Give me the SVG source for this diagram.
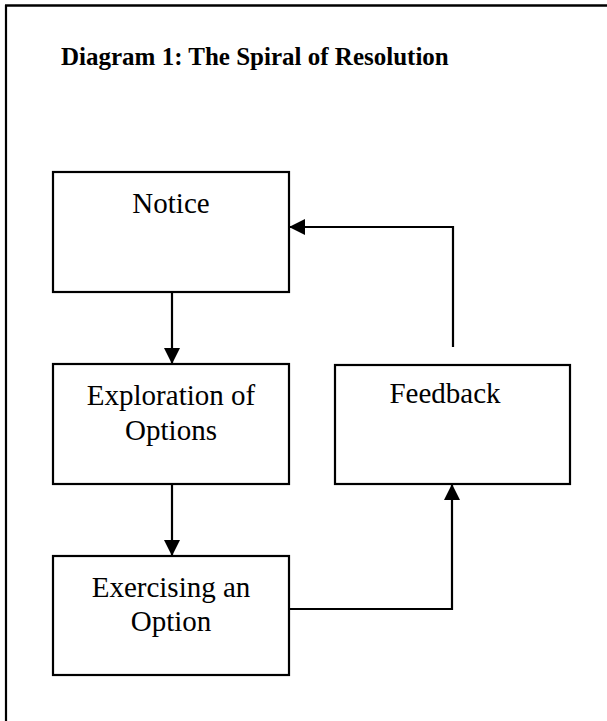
<svg xmlns="http://www.w3.org/2000/svg" width="607" height="721" viewBox="0 0 607 721">
<style>
.box{fill:#fff;stroke:#000;stroke-width:2.2}
.lbl{font-family:"Liberation Serif","Times New Roman",serif;font-size:29px;fill:#000;text-anchor:middle}
.ttl{font-family:"Liberation Serif","Times New Roman",serif;font-size:25px;font-weight:bold;fill:#000}
.con{fill:none;stroke:#000;stroke-width:2.2}
</style>
<defs>
<marker id="ah" markerUnits="userSpaceOnUse" markerWidth="16" markerHeight="16" viewBox="0 0 16 16" refX="15" refY="8" orient="auto">
<path d="M0,0 L16,8 L0,16 Z" fill="#000"/>
</marker>
</defs>
<rect width="607" height="721" fill="#fff"/>
<g id="frame">
<line x1="6" y1="5" x2="6" y2="721" stroke="#000" stroke-width="2.2"/>
<line x1="5" y1="5.5" x2="607" y2="5.5" stroke="#000" stroke-width="2.5"/>
</g>
<text class="ttl" x="61" y="65">Diagram 1: The Spiral of Resolution</text>
<g id="notice">
<rect class="box" x="53" y="172" width="236" height="120"/>
<text class="lbl" x="171" y="213">Notice</text>
</g>
<g id="exploration">
<rect class="box" x="53" y="364" width="236" height="120"/>
<text class="lbl" x="171" y="405">Exploration of</text>
<text class="lbl" x="171" y="440">Options</text>
</g>
<g id="exercising">
<rect class="box" x="53" y="556" width="236" height="119"/>
<text class="lbl" x="171" y="597">Exercising an</text>
<text class="lbl" x="171" y="631">Option</text>
</g>
<g id="feedback">
<rect class="box" x="335" y="365" width="235" height="119"/>
<text class="lbl" x="445" y="403">Feedback</text>
</g>
<g id="connectors">
<path class="con" d="M172,292 V363" marker-end="url(#ah)"/>
<path class="con" d="M172,484 V555" marker-end="url(#ah)"/>
<path class="con" d="M289,609 H452 V485" marker-end="url(#ah)"/>
<path class="con" d="M453,347 V227 H290" marker-end="url(#ah)"/>
</g>
</svg>
